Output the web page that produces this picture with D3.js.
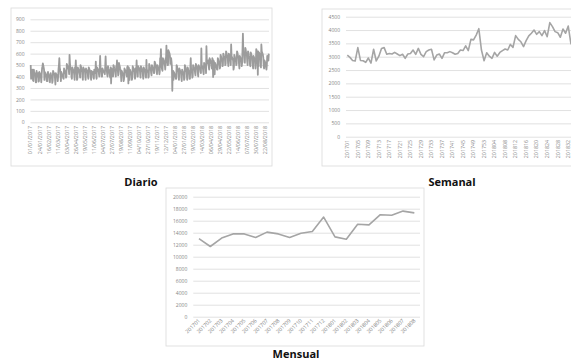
<!DOCTYPE html>
<html>
<head>
<meta charset="utf-8">
<script src="https://cdn.jsdelivr.net/npm/d3@7"></script>
<style>
  body { margin: 0; background: #fff; }
  text { font-family: "Open Sans", sans-serif; }
</style>
</head>
<body>
<svg id="chart" width="571" height="360"></svg>
<script>
// ---- data ----
const dailyTicks = ["01/01/2017","24/01/2017","16/02/2017","11/03/2017","03/04/2017","26/04/2017",
  "19/05/2017","11/06/2017","04/07/2017","27/07/2017","19/08/2017","11/09/2017","04/10/2017",
  "27/10/2017","19/11/2017","12/12/2017","04/01/2018","27/01/2018","19/02/2018","14/03/2018",
  "06/04/2018","29/04/2018","22/05/2018","14/06/2018","07/07/2018","30/07/2018","22/08/2018"];

const dailyValues = [
  500,380,450,430,460,420,365, 360,460,440,430,420,410,350, 350,450,420,410,400,430,355,
  360,440,430,400,420,395,350, 420,470,490,515,500,480,460, 370,440,430,420,410,400,360,
  360,430,440,420,400,405,355, 350,420,430,410,400,395,345, 365,450,440,430,420,425,380,
  330,430,420,410,400,410,360, 400,470,500,560,480,460,410, 360,440,430,420,410,400,385,
  380,470,460,440,430,445,390, 400,510,500,490,480,470,460, 420,590,520,480,470,460,400,
  380,480,470,460,450,440,410, 370,480,470,540,450,440,370, 380,480,470,460,450,440,420,
  390,500,490,470,450,460,400, 370,480,470,460,450,460,410, 370,470,460,450,440,450,400,
  380,480,470,460,450,450,400, 370,450,440,430,420,440,390, 380,460,450,440,430,530,410,
  380,480,470,460,450,460,420, 400,480,580,480,460,450,400, 400,470,460,450,440,440,430,
  420,490,575,480,470,450,420, 400,490,470,460,440,430,400, 390,480,340,470,460,450,410,
  400,500,490,470,460,450,420, 400,490,480,540,470,460,410, 420,520,500,490,470,460,420,
  360,450,440,430,420,420,360, 380,470,460,450,440,450,410, 400,480,490,470,340,480,440,
  370,460,450,440,420,430,370, 390,490,480,470,450,460,410, 380,470,460,450,540,450,400,
  400,490,480,470,460,470,420, 390,490,480,470,450,460,410, 380,480,470,460,450,450,400,
  390,545,460,450,440,450,390, 400,510,500,480,460,470,430, 410,500,490,480,460,460,430,
  430,530,520,510,490,480,450, 420,500,490,480,460,460,420, 440,560,550,640,520,480,460,
  450,560,550,540,520,510,500, 460,560,550,670,540,530,500, 500,630,620,610,600,580,510,
  520,560,530,480,275,430,450, 370,440,430,420,410,400,380, 380,500,490,470,450,460,400,
  370,470,460,450,440,440,390, 360,460,450,440,430,430,370, 380,500,490,470,450,460,410,
  370,480,470,450,440,430,380, 380,480,560,460,450,440,390, 400,500,490,480,460,470,430,
  410,510,500,490,470,480,430, 400,500,490,480,470,470,440, 430,645,500,490,480,470,440,
  420,520,510,500,480,490,430, 665,540,530,520,510,540,480, 460,560,550,540,520,530,490,
  470,560,550,395,540,530,520, 420,520,510,500,490,480,460, 460,560,550,530,510,520,470,
  480,590,580,560,540,540,490, 500,600,590,570,560,560,500, 510,620,610,590,570,580,520,
  490,600,590,570,550,540,500, 680,580,570,560,550,540,460, 480,590,580,560,540,540,500,
  510,620,610,590,570,570,510, 470,580,570,560,540,540,490, 520,640,775,620,600,600,525,
  520,650,640,610,590,590,530, 500,620,610,580,560,570,500, 490,610,600,580,560,560,500,
  470,580,570,560,540,540,470, 520,640,630,610,600,415,620, 490,610,600,580,560,560,480,
  680,620,610,600,590,560,490, 470,540,530,520,500,480,460, 500,580,570,560,540,600
];

const weekCats = [
  "201701","201702","201703","201704","201705","201706","201707","201708","201709","201710",
  "201711","201712","201713","201714","201715","201716","201717","201718","201719","201720",
  "201721","201722","201723","201724","201725","201726","201727","201728","201729","201730",
  "201731","201732","201733","201734","201735","201736","201737","201738","201739","201740",
  "201741","201742","201743","201744","201745","201746","201747","201748","201749","201750",
  "201751","201752","201753","201801","201802","201803","201804","201805","201806","201807",
  "201808","201809","201810","201811","201812","201813","201814","201815","201816","201817",
  "201818","201819","201820","201821","201822","201823","201824","201825","201826","201827",
  "201828","201829","201830","201831","201832","201833","201834"];

const weekValues = [
  3060,2975,2860,2840,3340,2860,2850,2790,2950,2760,
  3280,2840,3020,3310,3340,3090,3120,3100,3160,3100,
  3040,3090,2940,3100,3120,3250,3090,3310,3090,3000,
  3190,3250,3280,2880,3060,3100,2940,3150,3150,3190,
  3150,3090,3120,3250,3230,3410,3230,3650,3630,3810,
  4050,3250,2850,3150,3020,2940,3160,3020,3160,3230,
  3290,3250,3460,3350,3790,3650,3560,3380,3600,3780,
  3880,4000,3840,3940,3790,3980,3750,4280,4130,3940,
  3900,3730,4040,3880,4150,3500,3350];

const weekTicks = ["201701","201705","201709","201713","201717","201721","201725","201729",
  "201733","201737","201741","201745","201749","201753","201804","201808","201812","201816",
  "201820","201824","201828","201832"];

const monthCats = ["201701","201702","201703","201704","201705","201706","201707","201708",
  "201709","201710","201711","201712","201801","201802","201803","201804","201805","201806",
  "201807","201808"];

const monthValues = [13000,11700,13100,13800,13800,13200,14100,13800,13200,13900,
  14200,16600,13300,12900,15400,15300,17000,16900,17600,17300];

// ---- drawing ----
const svg = d3.select("#chart");
const fmtDay = d3.timeFormat("%d/%m/%Y");
const dailyCats = d3.timeDay.range(new Date(2017, 0, 1), new Date(2018, 8, 1)).map(fmtDay);

const gridColor = "#d9d9d9";
const labelColor = "#858585";
const lineColor = "#a5a5a5";

function drawPanel(p) {
  const g = svg.append("g");

  g.append("rect")
    .attr("x", p.box[0]).attr("y", p.box[1])
    .attr("width", p.box[2]).attr("height", p.box[3])
    .attr("fill", "#fff").attr("stroke", gridColor).attr("stroke-width", 0.8);

  const x = d3.scalePoint().domain(p.cats).range([p.x0, p.x1]).padding(0.5);
  const y = d3.scaleLinear().domain([0, p.ymax]).range([p.yBottom, p.yTop]);

  const yAxis = g.append("g")
    .attr("transform", `translate(${p.x0},0)`)
    .call(d3.axisLeft(y)
      .tickValues(d3.range(0, p.ymax + 1, p.ystep))
      .tickSize(-(p.x1 - p.x0))
      .tickPadding(p.ypad)
      .tickFormat(d3.format("d")));
  yAxis.select(".domain").remove();
  yAxis.selectAll("line").attr("stroke", gridColor).attr("stroke-width", 0.8);
  yAxis.selectAll("text").attr("fill", labelColor).style("font-size", "5px");

  g.selectAll("text.xlab").data(p.ticks)
    .join("text")
      .attr("class", "xlab")
      .attr("transform", d => `translate(${x(d) + (p.angle === -90 ? 1.8 : 1.5)},${p.labY}) rotate(${p.angle})`)
      .attr("text-anchor", "end")
      .attr("fill", labelColor)
      .style("font-size", "5.3px")
      .text(d => d);

  const line = d3.line()
    .x((d, i) => x(p.cats[i]))
    .y(d => y(d));

  g.append("path")
    .datum(p.values)
    .attr("fill", "none")
    .attr("stroke", p.color || lineColor)
    .attr("stroke-width", p.lw)
    .attr("stroke-linejoin", "round")
    .attr("d", line);

  g.append("text")
    .attr("x", p.title[1]).attr("y", p.title[2])
    .attr("text-anchor", "middle")
    .style("font-size", "11px").style("font-weight", "bold")
    .attr("fill", "#111")
    .text(p.title[0]);
}

drawPanel({
  box: [11, 8, 261, 158], cats: dailyCats, values: dailyValues, ticks: dailyTicks,
  x0: 30.5, x1: 269, yTop: 19.3, yBottom: 122.3, ymax: 900, ystep: 100, ypad: 6,
  labY: 126, angle: -90, lw: 1.8, color: "#9c9c9c", title: ["Diario", 141, 186]
});

drawPanel({
  box: [322, 9, 260, 157], cats: weekCats, values: weekValues, ticks: weekTicks,
  x0: 346, x1: 346 + 87 * 2.63, yTop: 16.7, yBottom: 136.7, ymax: 4500, ystep: 500, ypad: 6,
  labY: 140, angle: -90, lw: 1.6, title: ["Semanal", 452, 186]
});

drawPanel({
  box: [166, 188, 258, 158], cats: monthCats, values: monthValues, ticks: monthCats,
  x0: 193.3, x1: 420, yTop: 196.7, yBottom: 316.7, ymax: 20000, ystep: 2000, ypad: 6,
  labY: 321, angle: -45, lw: 1.6, title: ["Mensual", 296, 358]
});
</script>
</body>
</html>
